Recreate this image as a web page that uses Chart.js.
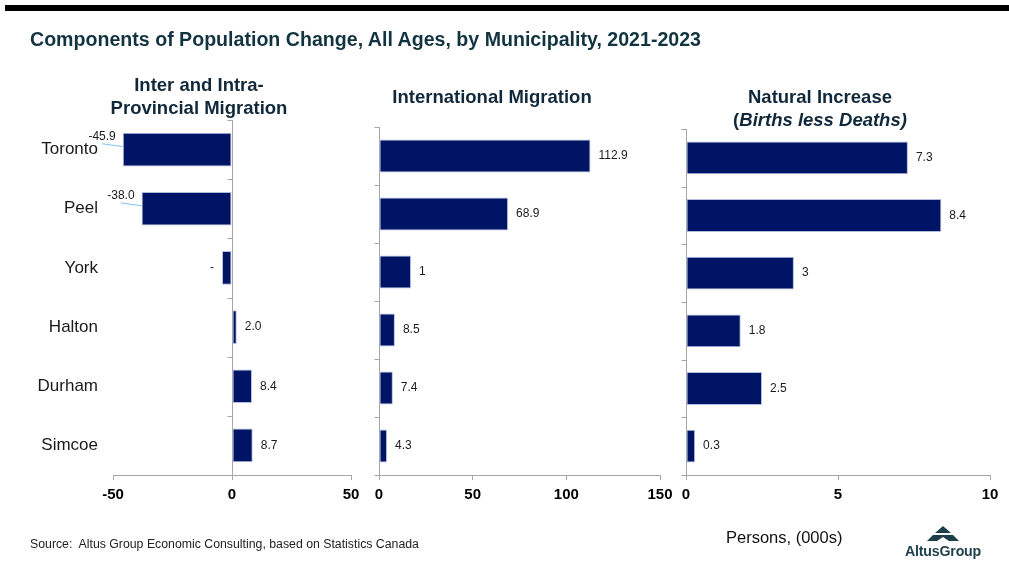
<!DOCTYPE html>
<html>
<head>
<meta charset="utf-8">
<script src="https://cdn.jsdelivr.net/npm/chart.js@4"></script>
<style>
  html, body { margin: 0; padding: 0; background: #fff; }
  body { width: 1009px; height: 577px; position: relative; overflow: hidden; font-family: "Liberation Sans", Arial, sans-serif; }
  canvas { position: absolute; top: 0; }
  .txt { position: absolute; white-space: nowrap; }
  .topbar { position: absolute; left: 5px; top: 5px; width: 1004px; height: 6px; background: #000; }
  .title { left: 30px; top: 28px; font-size: 19.6px; font-weight: bold; color: #123440; }
  .ptitle { font-size: 18.5px; font-weight: bold; color: #10283a; text-align: center; line-height: 23px; transform: translateX(-50%); }
  .source { left: 30px; top: 537px; font-size: 12.3px; color: #222; }
  .persons { left: 726px; top: 528px; font-size: 16.5px; color: #111; }
  .logo { left: 905px; top: 543px; font-size: 14.2px; font-weight: bold; color: #1c3f4a; letter-spacing: -0.2px; }
</style>
</head>
<body>
<div class="topbar"></div>
<canvas id="c1" width="365" height="577" style="left:0px"></canvas>
<canvas id="c2" width="310" height="577" style="left:365px"></canvas>
<canvas id="c3" width="334" height="577" style="left:675px"></canvas>

<div class="txt title">Components of Population Change, All Ages, by Municipality, 2021-2023</div>
<div class="txt ptitle" style="left:199px; top:73px;">Inter and Intra-<br>Provincial Migration</div>
<div class="txt ptitle" style="left:492px; top:85px;">International Migration</div>
<div class="txt ptitle" style="left:820px; top:85px;">Natural Increase<br>(<i>Births less Deaths)</i></div>
<div class="txt source">Source:&nbsp; Altus Group Economic Consulting, based on Statistics Canada</div>
<div class="txt persons">Persons, (000s)</div>
<svg style="position:absolute; left:920px; top:522px;" width="50" height="22">
  <polygon points="23,4 31,11 15,11" fill="#1c3f4a"/>
  <polygon points="13,13 33,13 39,19 7,19" fill="#1c3f4a"/>
  <polygon points="17,19 23,15 29,19" fill="#fff"/>
</svg>
<div class="txt logo">AltusGroup</div>

<script>
// Municipios e valores (milhares de pessoas)
const municipalities = ['Toronto', 'Peel', 'York', 'Halton', 'Durham', 'Simcoe'];

const interValues = [-45.9, -38.0, -4.2, 2.0, 8.4, 8.7];
const interLabels = ['-45.9', '-38.0', '-', '2.0', '8.4', '8.7'];

const intlValues = [112.9, 68.9, 17.1, 8.5, 7.4, 4.3];
const intlLabels = ['112.9', '68.9', '1', '8.5', '7.4', '4.3'];

const naturalValues = [7.3, 8.4, 3.55, 1.8, 2.5, 0.3];
const naturalLabels = ['7.3', '8.4', '3', '1.8', '2.5', '0.3'];

const interTicks = [-50, 0, 50];
const intlTicks = [0, 50, 100, 150];
const naturalTicks = [0, 5, 10];

const FONT = '"Liberation Sans", Arial, sans-serif';
const AXIS_GRAY = '#a6a6a6';
const BAR_COLOR = '#001466';

// Rotulos de valor ao lado de cada barra
const valueLabels = {
  id: 'valueLabels',
  afterDatasetsDraw(chart, args, opts) {
    const ctx = chart.ctx;
    const meta = chart.getDatasetMeta(0);
    ctx.save();
    ctx.font = '12px ' + FONT;
    ctx.fillStyle = '#1a1a1a';
    ctx.textBaseline = 'middle';
    meta.data.forEach((bar, i) => {
      const p = bar.getProps(['x', 'y', 'base', 'height'], true);
      const t = opts.texts[i];
      const w = ctx.measureText(t).width;
      if (p.x >= p.base) {
        ctx.textAlign = 'left';
        ctx.fillText(t, p.x + 8, p.y);
      } else if (p.x - w - 8 > chart.chartArea.left) {
        ctx.textAlign = 'right';
        ctx.fillText(t, p.x - 8, p.y);
      } else {
        // sem espaco: rotulo levantado com linha guia
        const ty = p.y - p.height / 2 + 4;
        const tx = p.x - 7;
        ctx.textAlign = 'right';
        ctx.fillText(t, tx, ty);
        ctx.strokeStyle = '#7fc4ee';
        ctx.lineWidth = 1;
        ctx.beginPath();
        ctx.moveTo(tx - w / 2, ty + 7);
        ctx.lineTo(p.x, p.y - 3);
        ctx.stroke();
      }
    });
    ctx.restore();
  }
};

// Pequenas marcas das categorias sobre a linha do zero
const zeroTicks = {
  id: 'zeroTicks',
  afterDraw(chart) {
    const ctx = chart.ctx;
    const x0 = Math.round(chart.scales.x.getPixelForValue(0)) + 0.5;
    const y = chart.scales.y;
    ctx.save();
    ctx.strokeStyle = AXIS_GRAY;
    ctx.lineWidth = 1;
    ctx.beginPath();
    for (let i = 0; i <= municipalities.length; i++) {
      const py = Math.round(y.getPixelForValue(i - 0.5)) + 0.5;
      ctx.moveTo(x0 - 5, py);
      ctx.lineTo(x0, py);
    }
    ctx.stroke();
    ctx.restore();
  }
};

function makePanel(id, values, labels, ticks, padding, showNames) {
  return new Chart(document.getElementById(id), {
    type: 'bar',
    data: {
      labels: municipalities,
      datasets: [{
        data: values,
        backgroundColor: BAR_COLOR,
        borderColor: '#b4bde0',
        borderWidth: 1,
        borderSkipped: false,
        categoryPercentage: 1,
        barPercentage: 0.57
      }]
    },
    options: {
      indexAxis: 'y',
      responsive: false,
      devicePixelRatio: 1,
      animation: false,
      layout: { padding: padding, autoPadding: false },
      plugins: {
        legend: { display: false },
        tooltip: { enabled: false },
        valueLabels: { texts: labels }
      },
      scales: {
        x: {
          min: ticks[0],
          max: ticks[ticks.length - 1],
          afterBuildTicks: scale => { scale.ticks = ticks.map(v => ({ value: v })); },
          afterFit: scale => {
            scale.height = 30;
            scale.paddingLeft = 0;
            scale.paddingRight = 0;
          },
          grid: {
            color: c => (c.tick && c.tick.value === 0 ? AXIS_GRAY : 'transparent'),
            tickColor: AXIS_GRAY,
            tickLength: 5
          },
          border: { display: true, color: AXIS_GRAY },
          ticks: {
            padding: 6,
            color: '#000',
            font: { family: FONT, size: 15, weight: 'bold' },
            maxRotation: 0
          }
        },
        y: {
          display: showNames,
          afterFit: scale => { if (showNames) scale.width = 113; },
          grid: { display: false },
          border: { display: false },
          ticks: {
            padding: 7,
            color: '#1a1a1a',
            font: { family: FONT, size: 17 }
          }
        }
      }
    },
    plugins: [valueLabels, zeroTicks]
  });
}

makePanel('c1', interValues, interLabels, interTicks, { left: 0, right: 14, top: 120, bottom: 72 }, true);
makePanel('c2', intlValues, intlLabels, intlTicks, { left: 14, right: 15, top: 127, bottom: 72 }, false);
makePanel('c3', naturalValues, naturalLabels, naturalTicks, { left: 11, right: 19, top: 129, bottom: 72 }, false);
</script>
</body>
</html>
